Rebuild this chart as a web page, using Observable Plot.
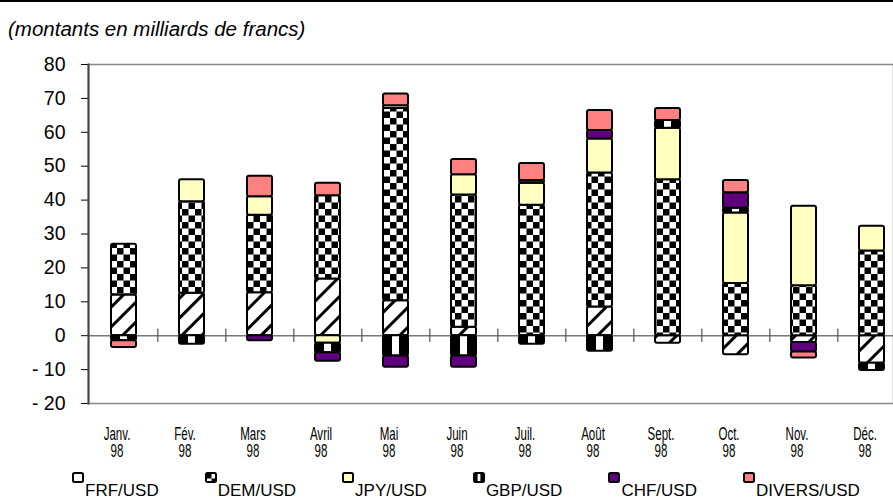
<!DOCTYPE html>
<html><head><meta charset="utf-8">
<script src="https://cdn.jsdelivr.net/npm/d3@7"></script>
<script src="https://cdn.jsdelivr.net/npm/@observablehq/plot@0.6"></script>
<style>
html,body{margin:0;padding:0;background:#fff;}
body{width:893px;height:499px;position:relative;overflow:hidden;font-family:"Liberation Sans",Arial,sans-serif;}
#topline{position:absolute;left:0;top:0;width:893px;height:2px;background:#000;}
#title{position:absolute;left:8px;top:18px;font-style:italic;font-size:20.5px;line-height:22px;white-space:nowrap;}
#chart{position:absolute;left:0;top:40px;}
#legend{position:absolute;left:72px;top:468px;display:flex;white-space:nowrap;}
.item{display:flex;align-items:flex-start;margin-right:46px;}
.item svg{margin-top:4px;display:block;}
.item span{margin-top:13px;font-size:17px;line-height:20px;margin-left:1px;}
</style></head>
<body>
<div id="topline"></div>
<div id="title"></div>
<div id="chart"></div>
<div id="legend"></div>
<script>
const titleText = "(montants en milliards de francs)";
const months = ["Janv.","Fév.","Mars","Avril","Mai","Juin","Juil.","Août","Sept.","Oct.","Nov.","Déc."];
const yearLabel = "98";
const series = ["FRF/USD","DEM/USD","JPY/USD","GBP/USD","CHF/USD","DIVERS/USD"];
const frf    = [12,   12.5, 12.7, 16.7, 10.3,  2.5,  0,    8.5, -2.2, -5.6, -2,   -8.1];
const dem    = [15,   27,   22.8, 24.6, 56.7, 39,   38.5, 39.5, 46,   15.4, 14.7, 25];
const jpy    = [0,     6.5,  5.5, -2.2,  0.8,  6,    6.5, 10,   15.2, 20.8, 23.5,  7.3];
const gbp    = [-1.5, -2.5,  0,   -2.8, -6,   -6,   -2.5, -4.6,  2.3,  1.4,  0,   -2.2];
const chf    = [0,     0,   -1.5, -2.5, -3.3, -3.3,  0.8,  2.5,  0,    4.6, -2.8,  0];
const divers = [-2,    0,    6,    3.7,  3.5,  4.5,  5,    5.9,  3.5,  3.6, -1.8,  0];
const yTicks = [-20, -10, 0, 10, 20, 30, 40, 50, 60, 70, 80];

const fills = ["url(#p-frf)", "url(#p-dem)", "#ffffc0", "url(#p-gbp)", "#600080", "#ff8080"];
const values = [frf, dem, jpy, gbp, chf, divers];

const rows = [];
months.forEach((m, i) => series.forEach((s, j) => {
  const v = values[j][i];
  if (v !== 0) rows.push({month: m, series: s, value: v});
}));

document.getElementById("title").textContent = titleText;

const W = 893, H = 428;
const x0 = 88, x1 = 908;
const step = (x1 - x0) / months.length;

const plot = Plot.plot({
  width: W, height: H,
  marginTop: 24, marginBottom: 65, marginLeft: 88, marginRight: 0,
  style: {fontFamily: "Liberation Sans, Arial, sans-serif", background: "white", overflow: "hidden"},
  x: {domain: months, range: [x0, x1], paddingInner: 0.63, paddingOuter: 0.315, axis: null},
  y: {domain: [-20, 80], axis: null},
  color: {domain: series, range: fills},
  marks: [
    Plot.frame({stroke: "#888", strokeWidth: 1.5}),
    Plot.ruleY([0], {stroke: "#777", strokeWidth: 1.5}),
    Plot.ruleX(months.slice(1), {x: d => d, y1: -2, y2: 2, dx: -step / 2, stroke: "#555", strokeWidth: 1.2}),
    Plot.rectY(rows, Plot.stackY({x: "month", y: "value", fill: "series", stroke: "black", strokeWidth: 2, rx: 2})),
    Plot.axisY({ticks: yTicks, label: null, tickSize: 7, tickPadding: 16, tickFormat: d => d < 0 ? "- " + (-d) : String(d), fontSize: 19.5}),
    Plot.frame({anchor: "left", stroke: "#444", strokeWidth: 2}),
    Plot.text(months, {x: d => d, text: d => d + "\n" + yearLabel, frameAnchor: "bottom", lineAnchor: "top", dy: 24, dx: -7, fontSize: 17.5, lineHeight: 1.0, fill: "black"})
  ]
});

d3.select(plot).insert("defs", ":first-child").html(`
  <pattern id="p-frf" patternUnits="userSpaceOnUse" width="14" height="14" patternTransform="rotate(45)">
    <rect width="14" height="14" fill="white"/>
    <rect x="0" width="3" height="14" fill="black"/>
  </pattern>
  <pattern id="p-dem" patternUnits="userSpaceOnUse" width="13" height="13">
    <rect width="13" height="13" fill="white"/>
    <rect width="6.5" height="6.5" fill="black"/>
    <rect x="6.5" y="6.5" width="6.5" height="6.5" fill="black"/>
  </pattern>
  <pattern id="p-gbp" patternUnits="objectBoundingBox" patternContentUnits="objectBoundingBox" width="1" height="1">
    <rect width="1" height="1" fill="black"/>
    <rect x="0.36" y="0" width="0.28" height="1" fill="white"/>
  </pattern>`);

// condensed look for the month labels (last text group = month labels)
const textGroups = plot.querySelectorAll('g[aria-label="text"]');
const monthGroup = textGroups[textGroups.length - 1];
if (monthGroup) monthGroup.querySelectorAll("text").forEach(el => {
  const t = el.getAttribute("transform") || "";
  el.setAttribute("transform", t + " scale(0.66,1)");
});

document.getElementById("chart").appendChild(plot);

const legend = d3.select("#legend");
series.forEach((s, j) => {
  const item = legend.append("div").attr("class", "item");
  const sw = item.append("svg").attr("width", 12).attr("height", 11);
  sw.append("rect").attr("x", 1).attr("y", 1).attr("width", 10).attr("height", 9).attr("rx", 1.5)
    .attr("fill", fills[j]).attr("stroke", "black").attr("stroke-width", 2);
  item.append("span").text(s);
});
</script>
</body></html>
